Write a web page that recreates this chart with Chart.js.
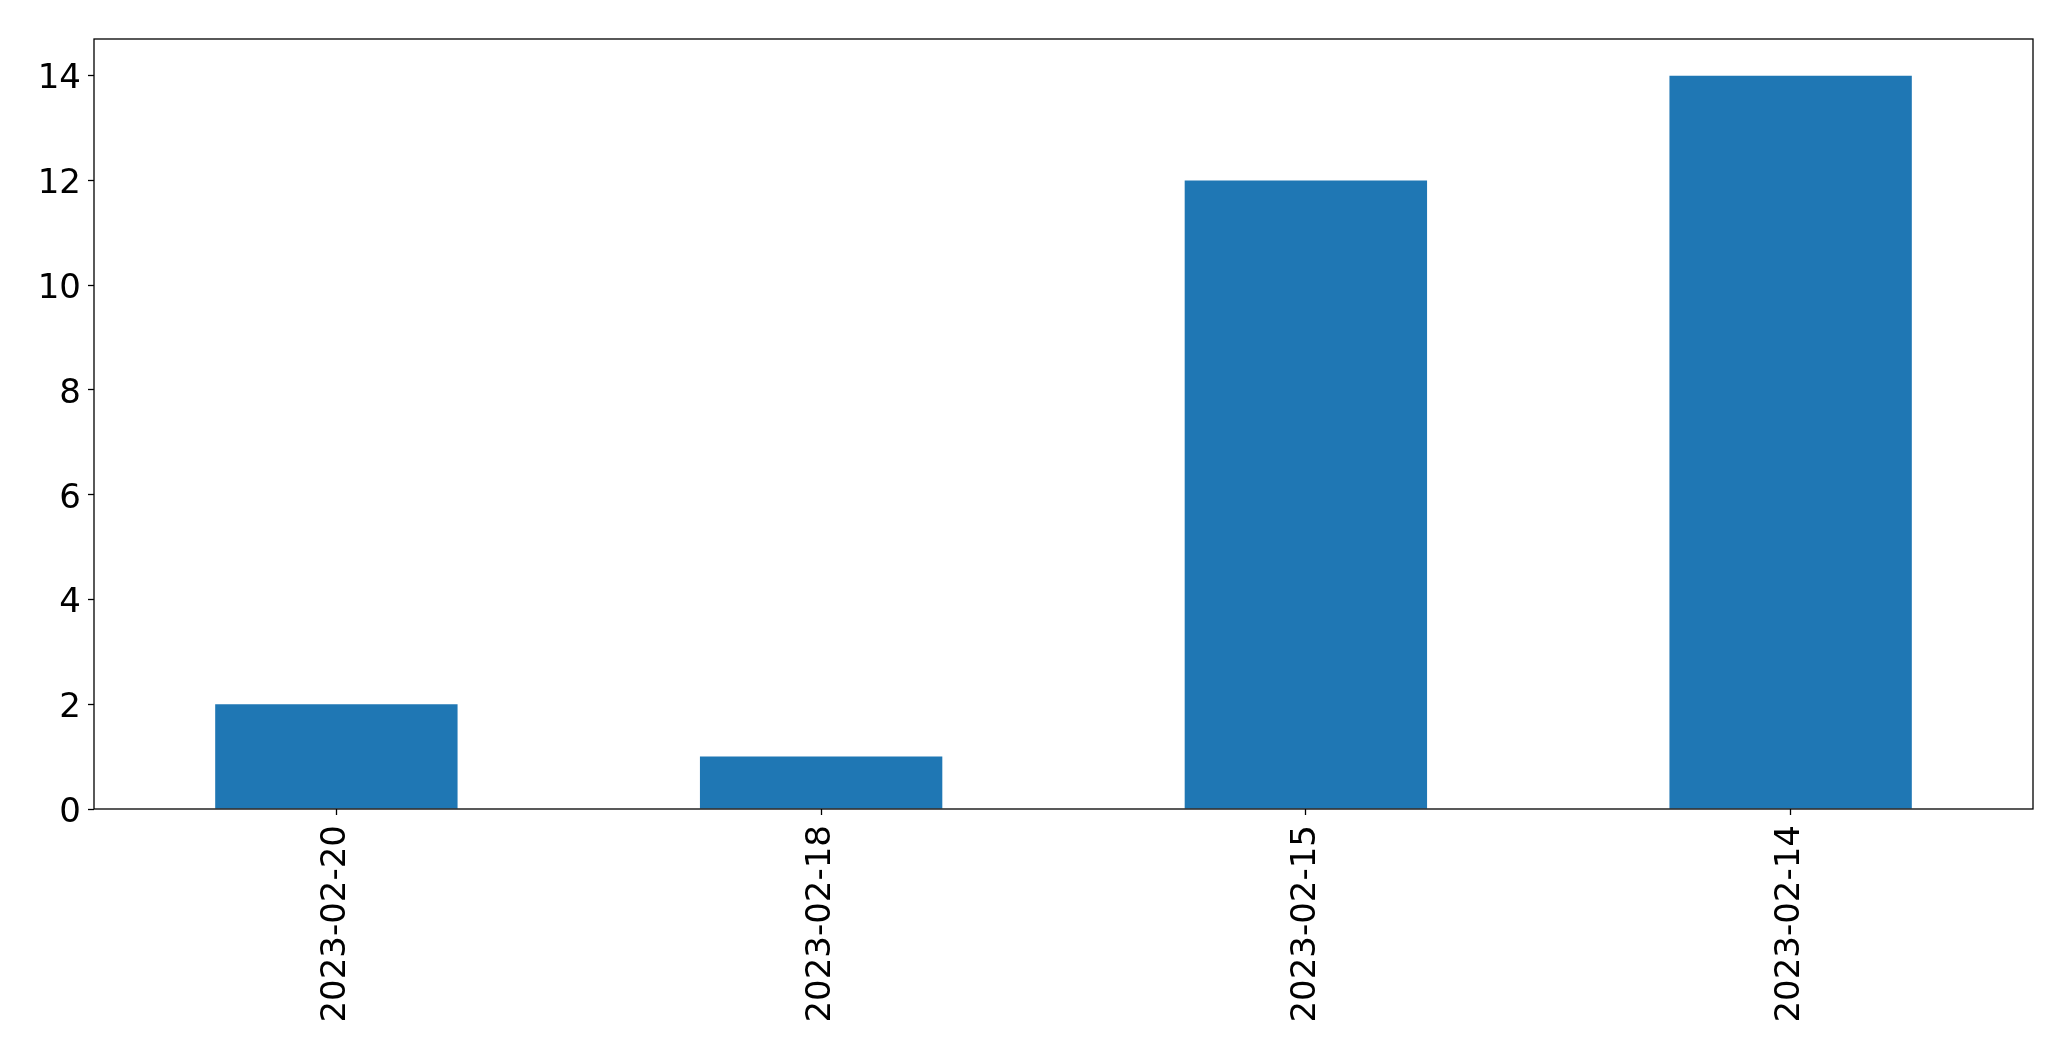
<!DOCTYPE html>
<html>
<head>
<meta charset="utf-8">
<script src="https://cdn.jsdelivr.net/npm/chart.js@4/dist/chart.umd.min.js"></script>
<style>
  html, body { margin: 0; padding: 0; background: #fff; }
  #wrap { width: 2071px; height: 1061px; }
</style>
</head>
<body>
<div id="wrap"><canvas id="grafico" width="2071" height="1061"></canvas></div>
<script>
const datas = ['2023-02-20', '2023-02-18', '2023-02-15', '2023-02-14'];
const contagens = [2, 1, 12, 14];
const ticksY = [0, 2, 4, 6, 8, 10, 12, 14];
const maxY = 14.7;

// moldura completa em volta da area do grafico
const moldura = {
  id: 'moldura',
  afterDraw(chart) {
    const { ctx, chartArea: a } = chart;
    ctx.save();
    ctx.strokeStyle = '#000';
    ctx.lineWidth = 1.3;
    ctx.strokeRect(a.left, a.top, a.right - a.left, a.bottom - a.top);
    ctx.restore();
  }
};

const fonte = { family: 'DejaVu Sans', size: 34 };

new Chart(document.getElementById('grafico').getContext('2d'), {
  type: 'bar',
  data: {
    labels: datas,
    datasets: [{
      data: contagens,
      backgroundColor: '#1f77b4',
      borderWidth: 0,
      barPercentage: 0.5,
      categoryPercentage: 1
    }]
  },
  options: {
    responsive: false,
    animation: false,
    devicePixelRatio: 1,
    layout: { padding: { top: 39, right: 38, left: 0, bottom: 0 } },
    plugins: {
      legend: { display: false },
      tooltip: { enabled: false }
    },
    scales: {
      x: {
        offset: true,
        grid: { display: true, drawOnChartArea: false, offset: false, tickLength: 6, color: '#000', tickWidth: 1.3 },
        border: { display: false },
        ticks: { color: '#000', font: fonte, maxRotation: 90, minRotation: 90, padding: 10, autoSkip: false },
        afterFit(s) { s.height = 252; }
      },
      y: {
        min: 0,
        max: maxY,
        grid: { display: true, drawOnChartArea: false, tickLength: 6, color: '#000', tickWidth: 1.3 },
        border: { display: false },
        ticks: { color: '#000', font: fonte, padding: 7, labelOffset: 4, includeBounds: false },
        afterBuildTicks(s) { s.ticks = ticksY.map(v => ({ value: v })); },
        afterFit(s) { s.width = 94; }
      }
    }
  },
  plugins: [moldura]
});
</script>
</body>
</html>
